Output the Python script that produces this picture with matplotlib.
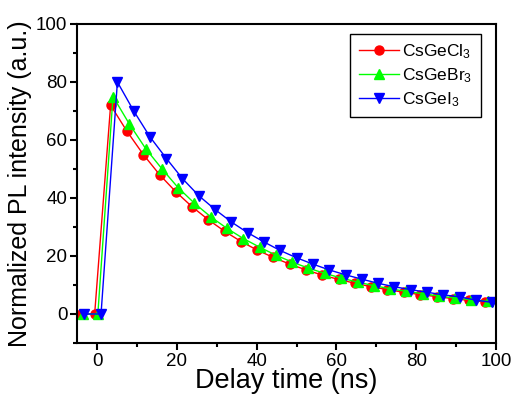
import matplotlib
matplotlib.use("Agg")
import matplotlib.pyplot as plt
from matplotlib.ticker import MultipleLocator

plt.rcParams['font.family'] = ['Liberation Sans', 'DejaVu Sans']
plt.rcParams['mathtext.default'] = 'regular'

# delay times (ns) and normalized PL intensity for each sample
t_cl = [-4.0, -0.6, 3.4, 7.5, 11.6, 15.7, 19.7, 23.8, 27.9, 32.0, 36.1, 40.2, 44.2,
        48.3, 52.4, 56.5, 60.6, 64.7, 68.7, 72.8, 76.9, 81.0, 85.1, 89.2, 93.2, 97.3]
pl_cl = [0, 0, 72, 63, 55, 48, 42.2, 37, 32.5, 28.5, 25, 22, 19.5,
         17.2, 15.2, 13.4, 11.9, 10.6, 9.4, 8.4, 7.5, 6.7, 6.0, 5.3, 4.7, 4.2]

t_br = [-3.5, 0.2, 4.0, 8.1, 12.2, 16.3, 20.3, 24.4, 28.5, 32.6, 36.7, 40.8, 44.8,
        48.9, 53.0, 57.1, 61.2, 65.3, 69.3, 73.4, 77.5, 81.6, 85.7, 89.8, 93.8, 97.9]
pl_br = [0, 0, 75, 65.5, 57, 50, 43.6, 38.2, 33.5, 29.5, 26, 23, 20.3,
         17.9, 15.8, 14.0, 12.4, 11.0, 9.8, 8.7, 7.8, 7.0, 6.2, 5.5, 4.9, 4.4]

t_i = [-3.2, 1.0, 5.1, 9.2, 13.3, 17.4, 21.4, 25.5, 29.6, 33.7, 37.8, 41.9, 45.9,
       50.0, 54.1, 58.2, 62.3, 66.4, 70.4, 74.5, 78.6, 82.7, 86.8, 90.9, 94.9, 99.0]
pl_i = [0, 0, 80, 70, 61, 53.6, 46.7, 40.8, 36, 31.7, 28, 24.8, 21.9,
        19.4, 17.2, 15.2, 13.5, 12.0, 10.6, 9.4, 8.4, 7.5, 6.6, 5.9, 4.8, 4.0]

labels = ['CsGeCl$_3$', 'CsGeBr$_3$', 'CsGeI$_3$']

fig = plt.figure(figsize=(5.14, 4.0), dpi=100)
ax = fig.add_axes((0.150, 0.1425, 0.815, 0.7975))

ax.plot(t_cl, pl_cl, color='red', marker='o', ms=6.5, lw=1.0, label=labels[0])
ax.plot(t_br, pl_br, color='#00ff00', marker='^', ms=7, lw=1.0, label=labels[1])
ax.plot(t_i, pl_i, color='blue', marker='v', ms=7.5, lw=1.0, label=labels[2])

ax.set_xlim(-5, 100)
ax.set_ylim(-10, 100)
ax.xaxis.set_major_locator(MultipleLocator(20))
ax.xaxis.set_minor_locator(MultipleLocator(10))
ax.yaxis.set_major_locator(MultipleLocator(20))
ax.yaxis.set_minor_locator(MultipleLocator(10))
ax.tick_params(which='both', direction='out', width=1.5, labelsize=13.5, pad=2)
ax.tick_params(which='major', length=5)
ax.tick_params(which='minor', length=3)
for s in ax.spines.values():
    s.set_linewidth(1.5)

ax.set_xlabel('Delay time (ns)', fontsize=19.5, labelpad=-1)
ax.set_ylabel('Normalized PL intensity (a.u.)', fontsize=18, labelpad=3)

leg = ax.legend(loc='upper right', bbox_to_anchor=(0.965, 0.97), borderaxespad=0,
                fontsize=12.5, fancybox=False, edgecolor='black', framealpha=1,
                handlelength=2.3, borderpad=0.5, labelspacing=0.3, handletextpad=0.2)
leg.get_frame().set_linewidth(1.0)

fig.savefig('out.png', dpi=100)
